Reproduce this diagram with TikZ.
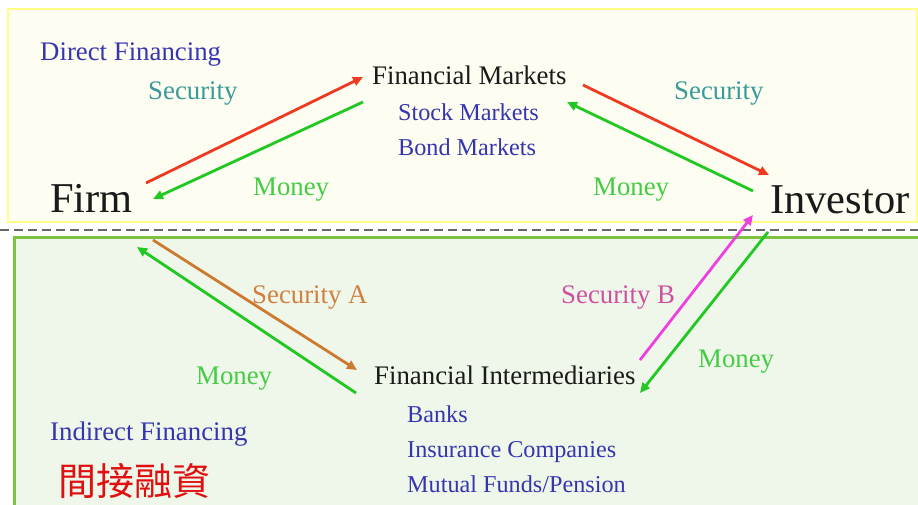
\documentclass[tikz,border=0pt]{standalone}
\usepackage{fontspec}
\setmainfont{Liberation Serif}
\newfontfamily\cjk{Noto Sans CJK TC}
\usetikzlibrary{arrows.meta}
\definecolor{txtblue}{HTML}{3535B0}
\definecolor{txtteal}{HTML}{3A9A9A}
\definecolor{txtgreen}{HTML}{44CC44}
\definecolor{txtorange}{HTML}{D08040}
\definecolor{txtpink}{HTML}{D050A0}
\definecolor{arrred}{HTML}{EE3A22}
\definecolor{arrgreen}{HTML}{22C822}
\definecolor{arrorange}{HTML}{CC7A30}
\definecolor{arrmag}{HTML}{EE40E0}
\definecolor{boxyellow}{HTML}{FFFF88}
\definecolor{fillyellow}{HTML}{FDFDF1}
\definecolor{boxgreen}{HTML}{7DC242}
\definecolor{fillgreen}{HTML}{EFF7EA}
\definecolor{darktxt}{HTML}{1A1A1A}
\definecolor{chred}{HTML}{E01010}
\begin{document}
\begin{tikzpicture}[x=1pt,y=-1pt,
  lbl/.style={anchor=base west,inner sep=0pt,font=\fontsize{26.8}{28}\selectfont},
  sub/.style={anchor=base west,inner sep=0pt,font=\fontsize{24.2}{26}\selectfont,text=txtblue},
  big/.style={anchor=base west,inner sep=0pt,font=\fontsize{42.5}{44}\selectfont,text=darktxt},
  flow/.style={line width=2.8pt,-{Triangle[length=10pt,width=9pt]}}]
\useasboundingbox (0,0) rectangle (918,505);
\fill[white] (0,0) rectangle (918,505);
% boxes
\draw[boxyellow,line width=2.5pt,fill=fillyellow] (8,9) rectangle (917,222);
\draw[boxgreen,line width=3pt,fill=fillgreen] (14,237) rectangle (940,530);
\draw[gray!80!black,line width=1.5pt,dash pattern=on 9pt off 5pt] (0,230) -- (918,230);
% texts
\node[lbl,text=txtblue] (direct) at (40,61) {Direct Financing};
\node[lbl,text=txtteal] (secL) at (148,100) {Security};
\node[lbl,text=darktxt] (fm) at (372,85) {Financial Markets};
\node[sub] (stock) at (398,121) {Stock Markets};
\node[sub] (bond) at (398,156) {Bond Markets};
\node[big] (firm) at (50,213) {Firm};
\node[lbl,text=txtgreen] (monL) at (253,196) {Money};
\node[lbl,text=txtteal] (secR) at (674,100) {Security};
\node[lbl,text=txtgreen] (monR) at (593,196) {Money};
\node[big] (inv) at (770,214) {Investor};
\node[lbl,text=txtorange] (secA) at (252,303) {Security A};
\node[lbl,text=txtgreen] (monBL) at (196,384) {Money};
\node[lbl,text=darktxt] (fi) at (374,384) {Financial Intermediaries};
\node[lbl,text=txtpink] (secB) at (561,303) {Security B};
\node[lbl,text=txtgreen] (monBR) at (698,367) {Money};
\node[sub] (banks) at (407,422) {Banks};
\node[sub] (ins) at (407,457) {Insurance Companies};
\node[sub] (mut) at (407,492) {Mutual Funds/Pension};
\node[lbl,text=txtblue] (indirect) at (50,440) {Indirect Financing};
\node[inner sep=0pt,text=chred,font=\cjk\fontsize{38}{40}\selectfont] (zh) at (134,481) {間接融資};
% arrow end points
\coordinate (a1s) at (146,183); \coordinate (a1e) at (363,77);
\coordinate (a2s) at (363,102); \coordinate (a2e) at (153,199);
\coordinate (a3s) at (583,85);  \coordinate (a3e) at (769,175);
\coordinate (a4s) at (753,191); \coordinate (a4e) at (567,102);
\coordinate (a5s) at (153,240); \coordinate (a5e) at (357,370);
\coordinate (a6s) at (356,393); \coordinate (a6e) at (137,247);
\coordinate (a7s) at (640,360); \coordinate (a7e) at (753,215);
\coordinate (a8s) at (768,232); \coordinate (a8e) at (640,393);
% arrows
\draw[flow,arrred] (a1s) -- (a1e);
\draw[flow,arrgreen] (a2s) -- (a2e);
\draw[flow,arrred] (a3s) -- (a3e);
\draw[flow,arrgreen] (a4s) -- (a4e);
\draw[flow,arrorange] (a5s) -- (a5e);
\draw[flow,arrgreen] (a6s) -- (a6e);
\draw[flow,arrmag] (a7s) -- (a7e);
\draw[flow,arrgreen] (a8s) -- (a8e);
\end{tikzpicture}
\end{document}
